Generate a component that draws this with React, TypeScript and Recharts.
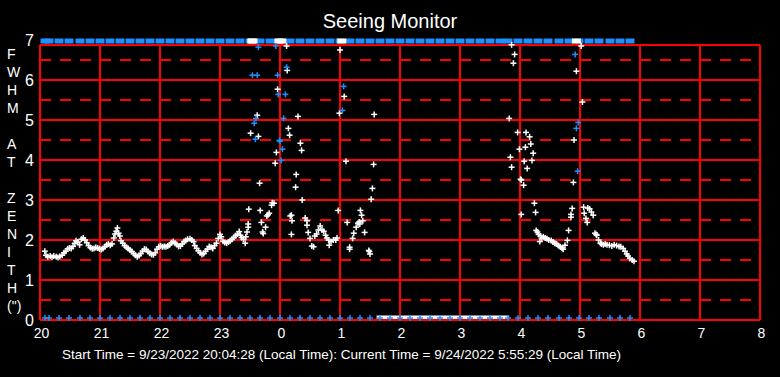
import React from 'react';
import { ScatterChart, Scatter, XAxis, YAxis, ReferenceLine, ReferenceArea } from 'recharts';

// hour ticks along the bottom (hours since 20:00)
const hourLabels = ['20', '21', '22', '23', '0', '1', '2', '3', '4', '5', '6', '7', '8'];
const fwhmTicks = [0, 1, 2, 3, 4, 5, 6, 7];
const axisLetters = ['F', 'W', 'H', 'M', '', 'A', 'T', '', 'Z', 'E', 'N', 'I', 'T', 'H', '(")'];

// seeing samples: [hours since 20:00, FWHM arcsec]
const eveningSeeing = [
  [0.08, 1.72], [0.10, 1.62], [0.13, 1.58], [0.17, 1.60], [0.20, 1.57], [0.23, 1.60], [0.27, 1.58],
  [0.30, 1.56], [0.33, 1.59], [0.37, 1.62], [0.40, 1.68], [0.43, 1.72], [0.46, 1.78], [0.49, 1.80],
  [0.52, 1.79], [0.55, 1.84], [0.58, 1.92], [0.60, 1.98], [0.63, 1.95], [0.66, 1.88], [0.69, 2.02],
  [0.72, 2.05], [0.75, 2.00], [0.78, 1.93], [0.81, 1.86], [0.84, 1.81], [0.87, 1.78], [0.90, 1.79],
  [0.93, 1.81], [0.96, 1.80], [0.99, 1.78], [1.02, 1.76], [1.05, 1.79], [1.08, 1.83], [1.11, 1.88],
  [1.14, 1.90], [1.17, 1.87], [1.20, 1.90], [1.23, 2.05], [1.25, 2.15], [1.27, 2.22], [1.29, 2.30],
  [1.31, 2.17], [1.33, 2.10], [1.35, 1.98], [1.38, 1.92], [1.41, 1.86], [1.44, 1.82], [1.47, 1.79],
  [1.50, 1.75], [1.53, 1.71], [1.56, 1.66], [1.59, 1.62], [1.62, 1.58], [1.65, 1.61], [1.68, 1.66],
  [1.71, 1.72], [1.74, 1.77], [1.77, 1.76], [1.80, 1.71], [1.83, 1.67], [1.86, 1.64], [1.89, 1.63],
  [1.92, 1.68], [1.95, 1.77], [1.98, 1.83], [2.01, 1.85], [2.04, 1.83], [2.07, 1.84], [2.10, 1.83],
  [2.13, 1.85], [2.16, 1.88], [2.19, 1.93], [2.22, 1.96], [2.25, 1.92], [2.28, 1.89], [2.31, 1.84],
  [2.34, 1.85], [2.37, 1.90], [2.40, 1.96], [2.43, 1.99], [2.46, 2.02], [2.50, 2.03], [2.53, 2.00],
  [2.56, 1.96], [2.58, 1.86], [2.61, 1.79], [2.64, 1.73], [2.67, 1.68], [2.70, 1.64], [2.73, 1.66],
  [2.76, 1.72], [2.79, 1.77], [2.82, 1.84], [2.85, 1.82], [2.88, 1.79], [2.91, 1.86], [2.94, 1.92],
  [2.97, 2.04], [3.00, 2.14], [3.02, 2.08], [3.05, 1.97], [3.08, 1.94], [3.11, 1.92], [3.14, 1.95],
  [3.17, 1.98], [3.20, 2.02], [3.23, 2.06], [3.26, 2.11], [3.29, 2.15], [3.32, 2.21], [3.34, 2.12],
  [3.36, 2.06], [3.39, 2.02], [3.42, 1.92], [3.43, 2.08],
];

const midnightSeeing = [
  [3.45, 2.20], [3.47, 2.40], [3.47, 2.32], [3.48, 2.77], [3.51, 4.67], [3.53, 7], [3.55, 7],
  [3.62, 5.12], [3.64, 4.59], [3.66, 3.42], [3.67, 2.74], [3.69, 2.44], [3.71, 2.20], [3.72, 2.16],
  [3.76, 2.32], [3.78, 2.60], [3.80, 2.63], [3.82, 2.67], [3.86, 2.87], [3.87, 2.93], [3.90, 2.92],
  [3.92, 3.92], [3.94, 4.19], [3.96, 5.77], [3.98, 7], [4.03, 7], [4.11, 6.85], [4.12, 6.24],
  [4.14, 4.79], [4.16, 4.62], [4.17, 2.60], [4.19, 2.62], [4.19, 2.14], [4.20, 2.48], [4.26, 3.32],
  [4.27, 3.64], [4.30, 5.09], [4.34, 4.42], [4.36, 4.24], [4.37, 3.00], [4.42, 2.55], [4.45, 2.48],
  [4.45, 2.37], [4.47, 2.19], [4.50, 2.04], [4.53, 1.85], [4.56, 1.83], [4.58, 2.10], [4.61, 2.15],
  [4.64, 2.25], [4.67, 2.35], [4.70, 2.25], [4.73, 2.22], [4.76, 2.12], [4.78, 2.05], [4.81, 2.00],
  [4.82, 1.87], [4.85, 1.96], [4.89, 2.00], [4.93, 2.00], [4.95, 2.05], [4.97, 2.74], [4.99, 5.17],
  [5.00, 6.75], [5.03, 7], [5.07, 5.59], [5.10, 3.97], [5.12, 2.44], [5.16, 1.82], [5.16, 1.77],
  [5.21, 2.04], [5.23, 2.17], [5.27, 2.32], [5.30, 2.42], [5.32, 2.45], [5.33, 2.40], [5.34, 2.74],
  [5.36, 2.62], [5.38, 2.48], [5.41, 2.19], [5.48, 1.74], [5.49, 1.71], [5.50, 1.65], [5.52, 3.02],
  [5.54, 3.29], [5.56, 3.89], [5.57, 5.14],
];

const dawnSeeing = [
  [7.82, 5.04], [7.84, 4.07], [7.86, 6.88], [7.86, 3.82], [7.89, 6.42], [7.91, 6.64], [7.96, 4.69],
  [7.99, 4.27], [8.01, 3.52], [8.02, 3.50], [8.02, 2.64], [8.06, 3.37], [8.07, 3.97], [8.09, 4.32],
  [8.10, 4.69], [8.12, 3.79], [8.16, 4.58], [8.18, 4.40], [8.20, 3.99], [8.22, 4.17], [8.24, 2.92],
  [8.26, 2.69], [8.27, 2.24], [8.29, 2.20], [8.31, 2.14], [8.33, 1.96], [8.34, 2.10], [8.36, 2.04],
  [8.39, 2.08], [8.42, 2.05], [8.45, 2.03], [8.48, 2.00], [8.52, 1.99], [8.55, 1.95], [8.58, 1.92],
  [8.61, 1.90], [8.64, 1.86], [8.67, 1.83], [8.70, 1.80], [8.72, 1.77], [8.75, 1.87], [8.79, 1.99],
  [8.81, 2.24], [8.85, 2.64], [8.85, 2.57], [8.87, 2.79], [8.89, 3.44], [8.90, 4.50], [8.94, 6.22],
  [8.94, 7], [9.02, 6.85], [9.04, 5.45], [9.06, 2.82], [9.07, 2.67], [9.10, 2.54], [9.12, 2.44],
  [9.13, 2.80], [9.16, 2.78], [9.19, 2.70], [9.22, 2.62], [9.25, 2.17], [9.27, 2.14], [9.28, 2.12],
  [9.31, 2.00], [9.34, 1.92], [9.36, 1.90], [9.39, 1.88], [9.42, 1.90], [9.45, 1.88], [9.49, 1.87],
  [9.53, 1.85], [9.57, 1.88], [9.61, 1.86], [9.65, 1.84], [9.68, 1.83], [9.72, 1.79], [9.75, 1.72],
  [9.78, 1.65], [9.80, 1.60], [9.83, 1.54], [9.87, 1.50], [9.90, 1.47],
];

// second (blue) measurement
const altSeeing = [
  [3.54, 6.12], [3.57, 4.92], [3.59, 4.52], [3.60, 5.04], [3.62, 6.12], [3.64, 6.82], [3.93, 6.85],
  [3.96, 6.12], [3.97, 5.64], [3.99, 4.49], [4.00, 4.47], [4.02, 3.99], [4.04, 4.27], [4.06, 5.04],
  [4.09, 5.64], [4.11, 6.32], [5.04, 5.24], [5.06, 5.84], [8.92, 6.64], [8.94, 4.79], [8.96, 3.72],
  [8.97, 4.94],
];

// status samples, minutes after 20:00 (shown at 0 and 7)
const flagMinutes = [
  5, 9, 19, 29, 40, 50, 60, 70, 80, 90, 100, 110, 120, 130, 140, 150, 160, 170, 180, 190, 200, 210,
  220, 230, 240, 250, 260, 270, 280, 290, 300, 310, 320, 330, 340, 350, 360, 370, 380, 390, 400, 410,
  420, 430, 440, 450, 460, 468, 478, 488, 498, 508, 519, 529, 539, 549, 559, 570, 580, 590,
];

// stretch with saturated (zero) readings, hours since 20:00
const zeroSpan = [5.61, 7.82];

const FRAME_TOP = 6.875;
const RED = '#FF0000';
const BLUE = '#1E90FF';
const FONT = '"Liberation Sans", Arial, sans-serif';

const toPoints = (rows: number[][]) => rows.map(([x, y]) => ({ x, y }));
const seeing = toPoints([...eveningSeeing, ...midnightSeeing, ...dawnSeeing]);
const alt = toPoints(altSeeing);
const topFlags = flagMinutes.map(m => ({ x: m / 60, y: 7 }));
const bottomFlags = flagMinutes.map(m => ({ x: m / 60, y: 0 }));

function Plus({ cx, cy, color }: { cx: number; cy: number; color: string }) {
  return (
    <g stroke={color} strokeWidth={1.5}>
      <line x1={cx - 3} x2={cx + 3} y1={cy} y2={cy} />
      <line x1={cx} x2={cx} y1={cy - 3} y2={cy + 3} />
    </g>
  );
}

function Block({ cx, cy, color }: { cx: number; cy: number; color: string }) {
  return <rect x={cx - 4.5} y={cy - 1.5} width={9} height={5} fill={color} />;
}

const pointShape = (color: string) => (props: any) => {
  const { cx, cy, payload } = props;
  if (payload && payload.y >= 7) return <Block cx={cx} cy={cy} color={color} />;
  return <Plus cx={cx} cy={cy} color={color} />;
};

export default function App() {
  const hours = hourLabels.map((_, i) => i);
  const halfLines = fwhmTicks.slice(0, 7).map(v => v + 0.5);

  return (
    <div style={{ position: 'absolute', left: 0, top: 0, width: 780, height: 377, background: '#000', fontFamily: FONT, color: '#fff' }}>
      <div style={{ position: 'absolute', left: 0, top: 10, width: 780, textAlign: 'center', fontSize: 20 }}>
        Seeing Monitor
      </div>
      <div style={{ position: 'absolute', left: 7, top: 45, fontSize: 14, lineHeight: '18px' }}>
        {axisLetters.map((c, i) => (
          <div key={i}>{c || '\u00a0'}</div>
        ))}
      </div>

      <ScatterChart width={780} height={377} margin={{ top: 40, right: 20, bottom: 0, left: 0 }}>
        <XAxis
          type="number"
          dataKey="x"
          domain={[0, 12]}
          ticks={hours}
          tickFormatter={(v: number) => hourLabels[v]}
          axisLine={false}
          tickLine={false}
          tickSize={6}
          height={57}
          tick={{ fill: '#fff', fontSize: 14, fontFamily: FONT, dx: 1.5 }}
        />
        <YAxis
          type="number"
          dataKey="y"
          domain={[0, 7]}
          ticks={fwhmTicks}
          axisLine={false}
          tickLine={false}
          tickSize={4}
          width={40}
          tick={{ fill: '#fff', fontSize: 16, fontFamily: FONT }}
        />

        {halfLines.map(v => (
          <ReferenceLine key={'h' + v} y={v} stroke={RED} strokeWidth={2} strokeDasharray="11 9" />
        ))}
        {fwhmTicks.slice(0, 7).map(v => (
          <ReferenceLine key={'s' + v} y={v} stroke={RED} strokeWidth={2} />
        ))}
        <ReferenceLine y={FRAME_TOP} stroke={RED} strokeWidth={2} />
        {hours.map(h => (
          <ReferenceLine
            key={'v' + h}
            segment={[{ x: h, y: 0 }, { x: h, y: FRAME_TOP }]}
            stroke={RED}
            strokeWidth={2}
          />
        ))}

        <ReferenceArea
          x1={zeroSpan[0]}
          x2={zeroSpan[1]}
          y1={0.0125}
          y2={0.1125}
          fill="#fff"
          fillOpacity={1}
          stroke="none"
          ifOverflow="visible"
        />

        <Scatter data={topFlags} isAnimationActive={false} shape={(p: any) => <Block cx={p.cx} cy={p.cy} color={BLUE} />} />
        <Scatter data={bottomFlags} isAnimationActive={false} shape={(p: any) => <Plus cx={p.cx} cy={p.cy - 2} color={BLUE} />} />
        <Scatter data={seeing} isAnimationActive={false} shape={pointShape('#fff')} />
        <Scatter data={alt} isAnimationActive={false} shape={pointShape(BLUE)} />
      </ScatterChart>

      <div style={{ position: 'absolute', left: 62, top: 347, fontSize: 13.5, whiteSpace: 'pre' }}>
        Start Time = 9/23/2022 20:04:28 (Local Time): Current Time = 9/24/2022 5:55:29 (Local Time)
      </div>
    </div>
  );
}
